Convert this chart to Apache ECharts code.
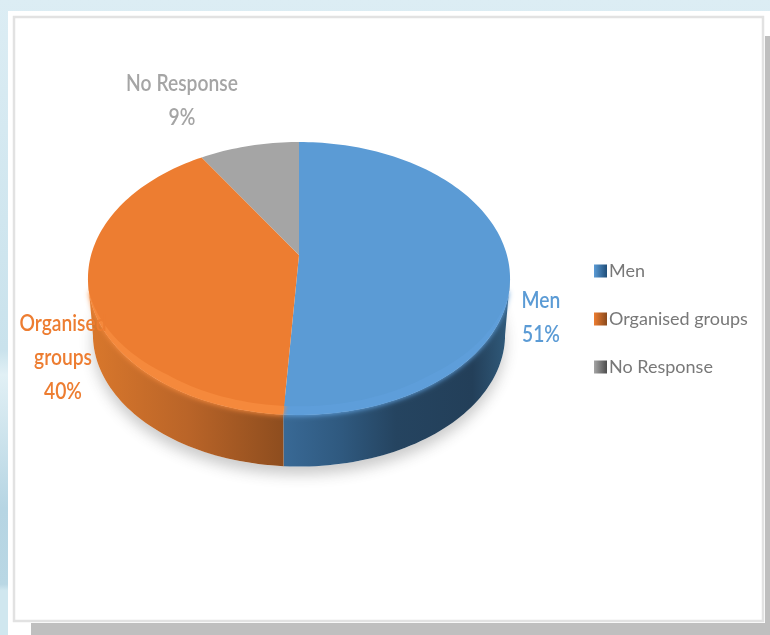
<!DOCTYPE html>
<html>
<head>
<meta charset="utf-8">
<style>html,body{margin:0;padding:0;background:#d8ebf2}#chart{width:770px;height:635px}</style>
<script src="https://cdn.jsdelivr.net/npm/echarts@6/dist/echarts.min.js"></script>
</head>
<body>
<div id="chart"></div>
<script>
// Survey response shares
const categories = ['Men', 'Organised groups', 'No Response'];
const shares = [51, 40, 9];
const labelLines = [['Men', '51%'], ['Organised', 'groups', '40%'], ['No Response', '9%']];

// Slice colours
const faceColors = ['#5b9bd5', '#ed7d31', '#a5a5a5'];
const rimColors = ['#5e9eda', '#f5893c', '#a8a8a8'];
const swatchColors = [['#5b9bd5', '#1f4e79'], ['#ed7d31', '#8a4a1d'], ['#a5a5a5', '#4d4d4d']];
const labelPositions = [[541, 318], [63, 358], [182, 101]];

// Tilted disc: a circle under a slight perspective projection
const top3d = { cx: 299, cy: 255, a: 207.9, b: 132.4, k: 0.172 };
const base3d = { cx: 299, cy: 312, a: 203, b: 128, k: 0.172 };
const wallLimits = [100, 260];
const bevelFrom = 105, bevelTo = 255, bevelRamp = 40, bevelDepth = 0.045;
const total = shares.reduce((s, v) => s + v, 0);

function project(disc, deg, scale) {
  const t = deg * Math.PI / 180;
  const s = Math.sin(t) * (scale || 1), c = Math.cos(t) * (scale || 1);
  const w = 1 + disc.k * c;
  return [disc.cx + disc.a * s / w, disc.cy - disc.b * c / w];
}
function arc(disc, from, to, scale) {
  const pts = [];
  const n = Math.max(2, Math.ceil(Math.abs(to - from) / 1.5));
  for (let i = 0; i <= n; i++) pts.push(project(disc, from + (to - from) * i / n, scale));
  return pts;
}
function startAngle(index) {
  let sum = 0;
  for (let i = 0; i < index; i++) sum += shares[i];
  return sum / total * 360;
}
// Inset of the flat face at a given angle: none at the back, full along the front
function faceScale(d) {
  if (d <= bevelFrom || d >= bevelTo) return 1;
  return 1 - bevelDepth * Math.min(d - bevelFrom, bevelTo - d, bevelRamp) / bevelRamp;
}

const wallGradients = [
  { type: 'linear', x: 287, y: 0, x2: 505, y2: 0, global: true, colorStops: [
    { offset: 0, color: '#386894' }, { offset: 0.25, color: '#2f597f' },
    { offset: 0.5, color: '#254460' }, { offset: 0.85, color: '#233f59' }, { offset: 1, color: '#2f5878' }] },
  { type: 'linear', x: 92, y: 0, x2: 287, y2: 0, global: true, colorStops: [
    { offset: 0, color: '#d8772c' }, { offset: 0.5, color: '#b96428' }, { offset: 1, color: '#8c4c1e' }] }
];

function renderSlice(params, api) {
  const i = params.seriesIndex - 1;
  const from = startAngle(i);
  const to = from + api.value(0) / total * 360;
  const children = [];

  // Outer wall, only where the slice faces the viewer
  const wallFrom = Math.max(from, wallLimits[0]), wallTo = Math.min(to, wallLimits[1]);
  if (wallTo > wallFrom) {
    children.push({
      type: 'polygon', z2: 1, silent: true,
      shape: { points: arc(top3d, wallFrom, wallTo).concat(arc(base3d, wallTo, wallFrom)) },
      style: { fill: wallGradients[i] }
    });
  }
  // Soft bevel along the front rim
  const rimFrom = Math.max(from, bevelFrom), rimTo = Math.min(to, bevelTo);
  if (rimTo > rimFrom) {
    children.push({
      type: 'polygon', z2: 2, silent: true,
      shape: { points: arc(top3d, rimFrom, rimTo).concat(arc(top3d, rimTo, rimFrom, 0.9)) },
      style: { fill: rimColors[i], shadowColor: rimColors[i], shadowBlur: 5, shadowOffsetY: 1 }
    });
  }
  // Flat top face, inset over the bevel on the front side
  const pts = [];
  for (let d = from; d < to; d += 1.5) pts.push(project(top3d, d, faceScale(d)));
  pts.push(project(top3d, to, faceScale(to)));
  children.push({
    type: 'polygon', z2: 3, silent: true,
    shape: { points: [[top3d.cx, top3d.cy]].concat(pts) },
    style: { fill: faceColors[i] }
  });
  return { type: 'group', children };
}

function renderGroundShadow() {
  return {
    type: 'polygon', silent: true,
    shape: { points: arc(base3d, 0, 360) },
    style: { fill: '#ffffff', shadowColor: 'rgba(60,60,60,0.27)', shadowBlur: 14, shadowOffsetY: 8 }
  };
}

function renderLabel(params) {
  const i = params.dataIndex;
  return {
    type: 'text', silent: true, z2: 10,
    x: labelPositions[i][0], y: labelPositions[i][1], scaleX: 0.875,
    style: {
      text: labelLines[i].join('\n'),
      fill: faceColors[i], align: 'center', verticalAlign: 'middle',
      font: '600 22px Lato', lineHeight: 34
    }
  };
}

const series = [{
  name: 'Ground', type: 'custom', coordinateSystem: 'none', silent: true, z: 1,
  data: [[total]], renderItem: renderGroundShadow
}];
categories.forEach((name, i) => series.push({
  name, type: 'custom', coordinateSystem: 'none', silent: true, z: 2,
  itemStyle: { color: faceColors[i] },
  data: [[shares[i]]], renderItem: renderSlice
}));
series.push({
  name: 'Labels', type: 'custom', coordinateSystem: 'none', silent: true, z: 3,
  data: categories.map((c, i) => [shares[i]]), renderItem: renderLabel
});

const chart = echarts.init(document.getElementById('chart'), null, { renderer: 'canvas' });
chart.setOption({
  animation: false,
  backgroundColor: 'transparent',
  legend: {
    orient: 'vertical', left: 589, top: 257, itemGap: 30, itemWidth: 13, itemHeight: 13,
    selectedMode: false,
    textStyle: { color: '#787878', fontFamily: 'Lato', fontSize: 18, padding: [0, 0, 0, -3] },
    data: categories.map((name, i) => ({
      name, icon: 'rect',
      itemStyle: { color: { type: 'linear', x: 0, y: 0, x2: 1, y2: 0, colorStops: [
        { offset: 0, color: swatchColors[i][0] }, { offset: 1, color: swatchColors[i][1] }] } }
    }))
  },
  graphic: { elements: [
    { type: 'rect', z: -10, silent: true, shape: { x: 0, y: 0, width: 770, height: 635 },
      style: { fill: { type: 'linear', x: 0, y: 0, x2: 0, y2: 1, colorStops: [
        { offset: 0, color: '#dcedf4' }, { offset: 0.55, color: '#c9e2ec' },
        { offset: 0.59, color: '#e1f0f5' }, { offset: 0.8, color: '#b6d5e3' },
        { offset: 0.92, color: '#b9d7e4' }, { offset: 0.93, color: '#d0e7ef' }, { offset: 1, color: '#d0e7ef' }] } } },
    { type: 'rect', z: -9, silent: true, shape: { x: 8, y: 11, width: 762, height: 624 }, style: { fill: '#ffffff' } },
    { type: 'rect', z: -8, silent: true, shape: { x: 765, y: 36, width: 5, height: 599 }, style: { fill: '#bfbfbf' } },
    { type: 'rect', z: -8, silent: true, shape: { x: 31, y: 623, width: 739, height: 12 }, style: { fill: '#bfbfbf' } },
    { type: 'rect', z: -7, silent: true, shape: { x: 14, y: 17, width: 749, height: 604 },
      style: { fill: '#ffffff', stroke: '#e2e2e2', lineWidth: 2.5 } }
  ] },
  series
});
</script>
</body>
</html>
